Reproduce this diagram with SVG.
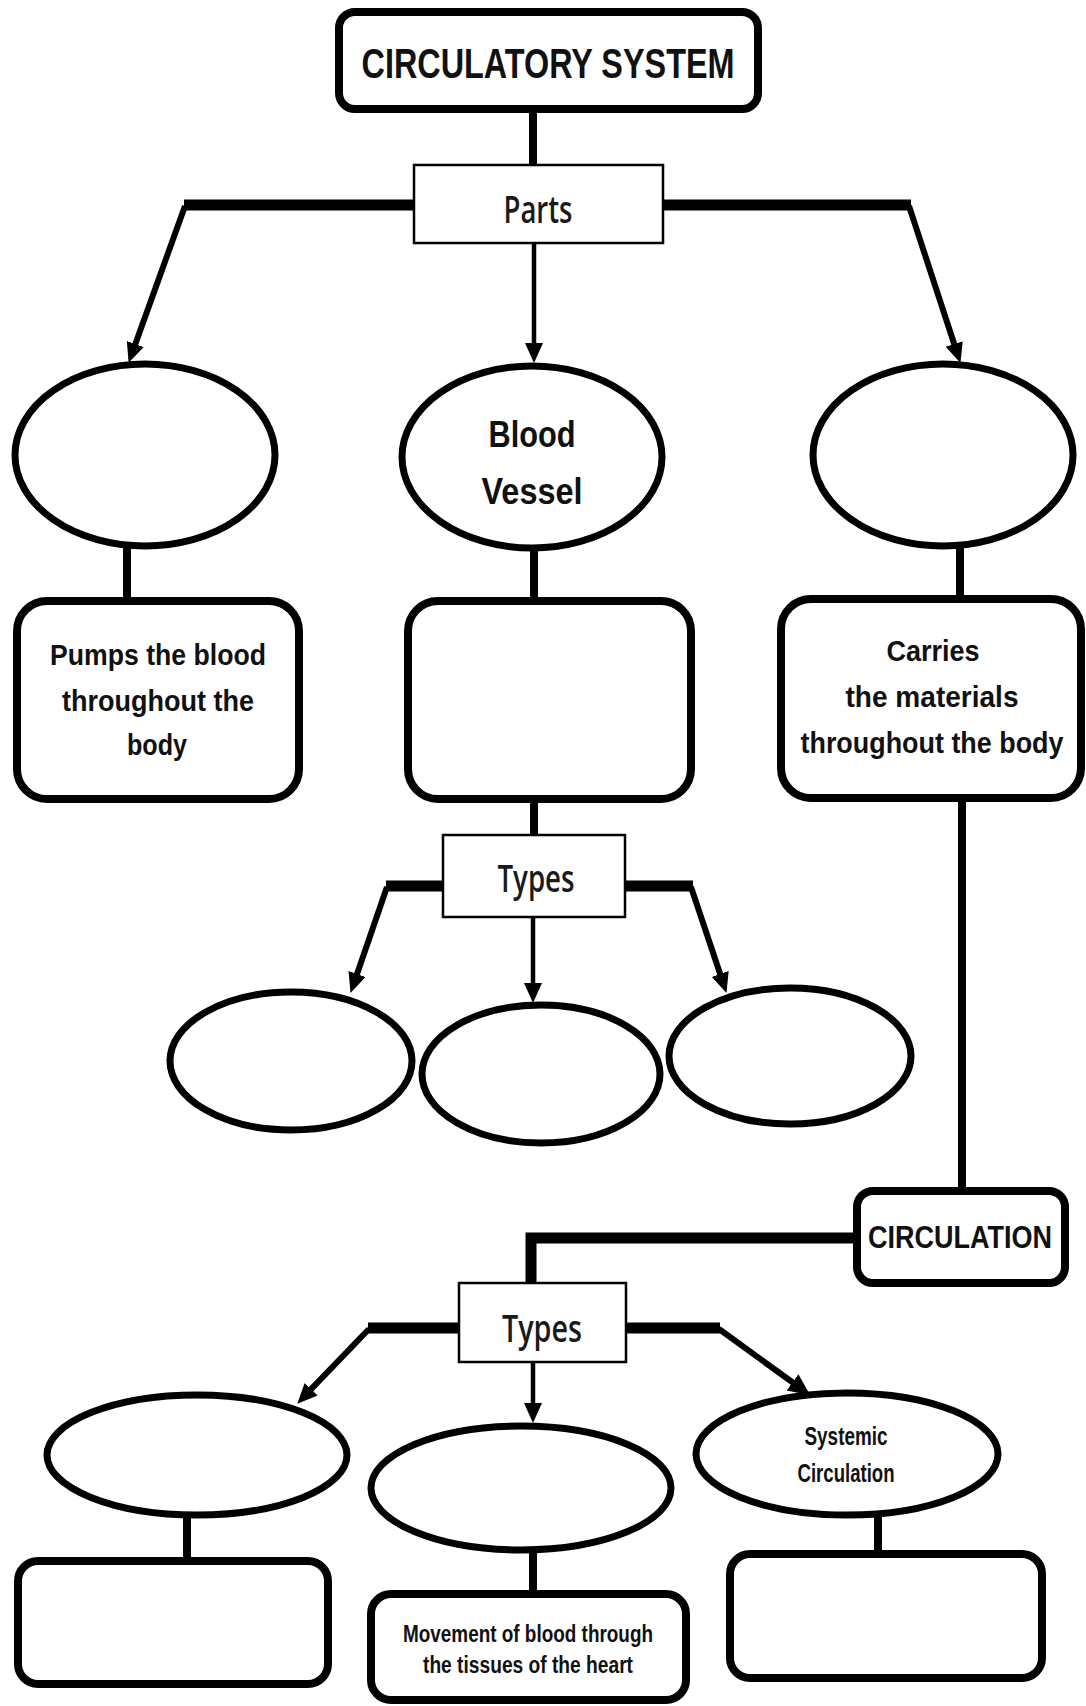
<svg xmlns="http://www.w3.org/2000/svg" width="1086" height="1706" viewBox="0 0 1086 1706">
<style>
.bg{fill:#fff}
.rb{fill:#fff;stroke:#000;stroke-width:8}
.sb{fill:#fff;stroke:#000;stroke-width:2.5}
.el{fill:#fff;stroke:#000;stroke-width:7}
.bar{stroke:#000;stroke-width:11;fill:none}
.diag{stroke:#000;stroke-width:6;fill:none}
.vc{stroke:#000;stroke-width:8;fill:none}
.ar{stroke:#000;stroke-width:4.5;fill:none}
.t{font-family:"Liberation Sans",Arial,sans-serif;font-weight:bold;fill:#111;text-anchor:middle}
.c{font-family:"Open Sans","Liberation Sans",sans-serif;font-weight:600;fill:#1a1a1a;text-anchor:middle}
</style>
<defs>
<marker id="ah" markerUnits="userSpaceOnUse" markerWidth="22" markerHeight="20" refX="9" refY="9" orient="auto">
<path d="M0,0 L20,9 L0,18 z" fill="#000"/>
</marker>
<marker id="ahB" markerUnits="userSpaceOnUse" markerWidth="24" markerHeight="22" refX="8" refY="10" orient="auto">
<path d="M0,0 L22,10 L0,20 z" fill="#000"/>
</marker>
</defs>
<rect class="bg" x="0" y="0" width="1086" height="1706"/>

<g id="connectors">
<line class="vc" x1="533" y1="112" x2="533" y2="166"/>
<line class="bar" x1="184" y1="205" x2="414" y2="205"/>
<line class="bar" x1="663" y1="205" x2="911" y2="205"/>
<path class="diag" d="M185,206 L132.3,352.5" marker-end="url(#ah)"/>
<path class="diag" d="M909,206 L957,352.5" marker-end="url(#ah)"/>
<path class="ar" d="M534,243 L534,352" marker-end="url(#ah)"/>
<line class="vc" x1="127" y1="548" x2="127" y2="598"/>
<line class="vc" x1="534" y1="550" x2="534" y2="598"/>
<line class="vc" x1="960" y1="548" x2="960" y2="596"/>
<line class="vc" x1="534" y1="802" x2="534" y2="836"/>
<line class="bar" x1="386" y1="886" x2="443" y2="886"/>
<line class="bar" x1="625" y1="886" x2="693" y2="886"/>
<path class="diag" d="M387,887 L354.1,982.5" marker-end="url(#ah)"/>
<path class="ar" d="M533,917 L533,992" marker-end="url(#ah)"/>
<path class="diag" d="M691,887 L723,982.5" marker-end="url(#ah)"/>
<line class="vc" x1="962" y1="801" x2="962" y2="1189"/>
<path class="bar" d="M854,1238 L531,1238 L531,1283" stroke-linejoin="miter"/>
<line class="bar" x1="368" y1="1328" x2="459" y2="1328" stroke-width="9"/>
<line class="bar" x1="627" y1="1328" x2="720" y2="1328" stroke-width="9"/>
<path class="diag" d="M369,1329 L304.9,1395.7" stroke-width="6" marker-end="url(#ah)"/>
<path class="ar" d="M533,1362 L533,1412" marker-end="url(#ah)"/>
<path class="diag" d="M719,1329 L799,1387" stroke-width="9" marker-end="url(#ahB)"/>
<line class="vc" x1="187" y1="1517" x2="187" y2="1558"/>
<line class="vc" x1="533" y1="1551" x2="533" y2="1592"/>
<line class="vc" x1="878" y1="1517" x2="878" y2="1551"/>
</g>

<g id="title">
<rect class="rb" x="339" y="12" width="419" height="97" rx="16"/>
<text class="t" x="548" y="78" font-size="42" textLength="373" lengthAdjust="spacingAndGlyphs">CIRCULATORY SYSTEM</text>
</g>

<g id="parts">
<rect class="sb" x="414" y="165" width="249" height="78"/>
<text class="c" x="538" y="223" font-size="38" textLength="69" lengthAdjust="spacingAndGlyphs">Parts</text>
</g>

<g id="ellipse-left">
<ellipse class="el" cx="145" cy="455" rx="130" ry="91"/>
</g>

<g id="ellipse-blood-vessel">
<ellipse class="el" cx="532" cy="457" rx="130" ry="91"/>
<text class="t" x="532" y="447" font-size="36" textLength="87" lengthAdjust="spacingAndGlyphs">Blood</text>
<text class="t" x="532" y="504" font-size="36" textLength="101" lengthAdjust="spacingAndGlyphs">Vessel</text>
</g>

<g id="ellipse-right">
<ellipse class="el" cx="943" cy="455" rx="130" ry="91"/>
</g>

<g id="box-pumps">
<rect class="rb" x="17" y="601" width="282" height="198" rx="30"/>
<text class="t" x="158" y="665" font-size="29" textLength="216" lengthAdjust="spacingAndGlyphs">Pumps the blood</text>
<text class="t" x="158" y="711" font-size="29" textLength="192" lengthAdjust="spacingAndGlyphs">throughout the</text>
<text class="t" x="157" y="755" font-size="29" textLength="60" lengthAdjust="spacingAndGlyphs">body</text>
</g>

<g id="box-middle">
<rect class="rb" x="408" y="601" width="283" height="198" rx="30"/>
</g>

<g id="box-carries">
<rect class="rb" x="781" y="599" width="300" height="199" rx="30"/>
<text class="t" x="933" y="661" font-size="29" textLength="93" lengthAdjust="spacingAndGlyphs">Carries</text>
<text class="t" x="932" y="707" font-size="29" textLength="173" lengthAdjust="spacingAndGlyphs">the materials</text>
<text class="t" x="932" y="753" font-size="29" textLength="263" lengthAdjust="spacingAndGlyphs">throughout the body</text>
</g>

<g id="types1">
<rect class="sb" x="443" y="835" width="182" height="82"/>
<text class="c" x="536" y="892" font-size="38" textLength="77" lengthAdjust="spacingAndGlyphs">Types</text>
</g>

<g id="type-ellipse-1">
<ellipse class="el" cx="291" cy="1061" rx="121" ry="69"/>
</g>
<g id="type-ellipse-2">
<ellipse class="el" cx="541" cy="1074" rx="119" ry="69"/>
</g>
<g id="type-ellipse-3">
<ellipse class="el" cx="790" cy="1056" rx="121" ry="68"/>
</g>

<g id="circulation">
<rect class="rb" x="857" y="1191" width="208" height="92" rx="16"/>
<text class="t" x="960" y="1248" font-size="32" textLength="184" lengthAdjust="spacingAndGlyphs">CIRCULATION</text>
</g>

<g id="types2">
<rect class="sb" x="459" y="1283" width="167" height="79"/>
<text class="c" x="542" y="1342" font-size="38" textLength="80" lengthAdjust="spacingAndGlyphs">Types</text>
</g>

<g id="circ-ellipse-1">
<ellipse class="el" cx="197" cy="1455" rx="150" ry="60"/>
</g>
<g id="circ-ellipse-2">
<ellipse class="el" cx="521" cy="1488" rx="150" ry="62"/>
</g>
<g id="circ-ellipse-systemic">
<ellipse class="el" cx="847" cy="1454" rx="151" ry="61"/>
<text class="t" x="846" y="1445" font-size="25" textLength="83" lengthAdjust="spacingAndGlyphs">Systemic</text>
<text class="t" x="846" y="1482" font-size="25" textLength="97" lengthAdjust="spacingAndGlyphs">Circulation</text>
</g>

<g id="circ-box-1">
<rect class="rb" x="18" y="1561" width="310" height="123" rx="20"/>
</g>
<g id="circ-box-2">
<rect class="rb" x="371" y="1594" width="315" height="106" rx="20"/>
<text class="t" x="528" y="1642" font-size="23" textLength="250" lengthAdjust="spacingAndGlyphs">Movement of blood through</text>
<text class="t" x="528" y="1673" font-size="23" textLength="210" lengthAdjust="spacingAndGlyphs">the tissues of the heart</text>
</g>
<g id="circ-box-3">
<rect class="rb" x="730" y="1554" width="312" height="124" rx="20"/>
</g>
</svg>
